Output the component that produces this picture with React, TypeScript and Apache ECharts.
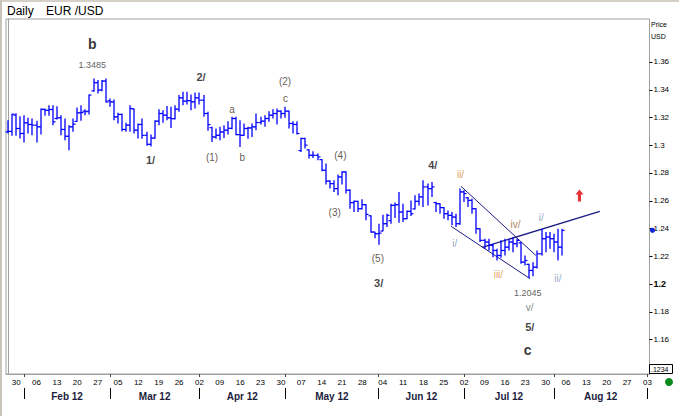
import React, { useEffect, useRef } from "react";
import * as echarts from "echarts";

// ---------- calendar (trading days shown on the axis) ----------
const AXIS_START = "2012-01-26";
const AXIS_END = "2012-09-03";
function weekdays(a: string, b: string): string[] {
  const out: string[] = [];
  const d = new Date(a + "T00:00:00Z");
  const e = new Date(b + "T00:00:00Z");
  while (d <= e) {
    const w = d.getUTCDay();
    if (w !== 0 && w !== 6) out.push(d.toISOString().slice(0, 10));
    d.setUTCDate(d.getUTCDate() + 1);
  }
  return out;
}
const dates = weekdays(AXIS_START, AXIS_END);
const monthNames = ["Feb 12", "Mar 12", "Apr 12", "May 12", "Jun 12", "Jul 12", "Aug 12"];

// ---------- EUR/USD daily OHLC (26 Jan 2012 .. 3 Aug 2012) ----------
const opens = [
  1.3095, 1.3098, 1.3215, 1.3119, 1.3083, 1.316, 1.3148, 1.3143, 1.3131, 1.3256,
  1.325, 1.3256, 1.3191, 1.3196, 1.3112, 1.3063, 1.3131, 1.317, 1.3232, 1.3244,
  1.3244, 1.339, 1.3449, 1.3396, 1.3461, 1.3319, 1.3311, 1.3203, 1.322, 1.3112,
  1.3143, 1.326, 1.3107, 1.3148, 1.307, 1.3005, 1.305, 1.3172, 1.3227, 1.3215,
  1.3196, 1.319, 1.3258, 1.334, 1.3316, 1.332, 1.3311, 1.334, 1.3323, 1.3227,
  1.3125, 1.3058, 1.307, 1.3094, 1.3107, 1.312, 1.3191, 1.3075, 1.307, 1.3119,
  1.3123, 1.3131, 1.3162, 1.3172, 1.3191, 1.3215, 1.3227, 1.3244, 1.3227, 1.3244,
  1.3155, 1.3148, 1.296, 1.3047, 1.2965, 1.2926, 1.2926, 1.2895, 1.2818, 1.274,
  1.2722, 1.2686, 1.277, 1.2806, 1.2674, 1.2585, 1.2594, 1.2541, 1.257, 1.249,
  1.2373, 1.2361, 1.238, 1.2433, 1.2455, 1.2565, 1.257, 1.2517, 1.2469, 1.2522,
  1.254, 1.2594, 1.2626, 1.2698, 1.2686, 1.2585, 1.2577, 1.2549, 1.2505, 1.2493,
  1.2481, 1.2433, 1.2662, 1.262, 1.2601, 1.2541, 1.2397, 1.2313, 1.2301, 1.2277,
  1.224, 1.2204, 1.224, 1.2264, 1.2301, 1.2289, 1.2295, 1.2156, 1.214, 1.2096,
  1.212, 1.2216, 1.2325, 1.2337, 1.2325, 1.2301, 1.2264,
];
const highs = [
  1.3179, 1.3225, 1.3229, 1.3208, 1.3215, 1.3196, 1.3191, 1.3174, 1.3263, 1.3263,
  1.3287, 1.3287, 1.328, 1.3215, 1.3191, 1.3143, 1.3191, 1.327, 1.3287, 1.3258,
  1.3364, 1.348, 1.3468, 1.3468, 1.348, 1.3335, 1.3328, 1.3232, 1.3227, 1.316,
  1.3287, 1.3263, 1.3155, 1.3191, 1.3095, 1.3075, 1.3179, 1.3258, 1.3251, 1.3282,
  1.3275, 1.3287, 1.336, 1.3384, 1.3384, 1.3364, 1.3379, 1.3379, 1.336, 1.3239,
  1.3131, 1.3119, 1.3131, 1.3143, 1.3172, 1.3203, 1.3203, 1.3179, 1.3155, 1.3131,
  1.3155, 1.3227, 1.3203, 1.3215, 1.3244, 1.3258, 1.3263, 1.3251, 1.3275, 1.3248,
  1.3172, 1.3172, 1.3052, 1.3052, 1.297, 1.2955, 1.2938, 1.2898, 1.2866, 1.2746,
  1.2746, 1.2787, 1.2811, 1.2811, 1.2681, 1.2601, 1.2598, 1.2609, 1.2575, 1.2493,
  1.2375, 1.2433, 1.2498, 1.2505, 1.2577, 1.2585, 1.2662, 1.2577, 1.2529, 1.2601,
  1.2638, 1.265, 1.2746, 1.2722, 1.2734, 1.2592, 1.258, 1.2553, 1.2529, 1.2517,
  1.2505, 1.2686, 1.2674, 1.2626, 1.2613, 1.2545, 1.24, 1.2325, 1.2325, 1.2289,
  1.2252, 1.2313, 1.2325, 1.2325, 1.2337, 1.2325, 1.2301, 1.2204, 1.2144, 1.2156,
  1.224, 1.2397, 1.2373, 1.2373, 1.2361, 1.2397, 1.2397,
];
const lows = [
  1.3083, 1.3066, 1.3066, 1.3047, 1.3018, 1.3083, 1.3071, 1.3018, 1.3075, 1.321,
  1.321, 1.3143, 1.3184, 1.3071, 1.3035, 1.2962, 1.3095, 1.3167, 1.3174, 1.3215,
  1.322, 1.3384, 1.3372, 1.3388, 1.3307, 1.3275, 1.3179, 1.3155, 1.31, 1.3095,
  1.3095, 1.3083, 1.3047, 1.3046, 1.2995, 1.299, 1.3046, 1.3143, 1.316, 1.3179,
  1.3123, 1.3184, 1.3239, 1.3287, 1.3292, 1.3251, 1.3263, 1.3292, 1.3203, 1.3102,
  1.3022, 1.3046, 1.3034, 1.3051, 1.3075, 1.3114, 1.307, 1.2986, 1.3065, 1.3046,
  1.3058, 1.3107, 1.3147, 1.3131, 1.3167, 1.3191, 1.3147, 1.3191, 1.3196, 1.3119,
  1.3083, 1.3076, 1.295, 1.2975, 1.2902, 1.2907, 1.289, 1.2811, 1.2715, 1.2686,
  1.2662, 1.2638, 1.2715, 1.265, 1.2541, 1.2517, 1.2517, 1.2536, 1.2457, 1.2368,
  1.2329, 1.2281, 1.2378, 1.2409, 1.2433, 1.2474, 1.244, 1.2445, 1.2465, 1.2488,
  1.2536, 1.2565, 1.2553, 1.2565, 1.2626, 1.2517, 1.2505, 1.2469, 1.2457, 1.2421,
  1.2409, 1.2425, 1.259, 1.2553, 1.2505, 1.2361, 1.2301, 1.2252, 1.224, 1.2192,
  1.2168, 1.2188, 1.2204, 1.224, 1.2228, 1.2264, 1.2144, 1.2132, 1.2042, 1.2055,
  1.211, 1.2204, 1.2228, 1.2252, 1.2228, 1.2168, 1.2204,
];
const closes = [
  1.3098, 1.3222, 1.3119, 1.3083, 1.316, 1.3148, 1.3143, 1.3131, 1.3258, 1.325,
  1.3256, 1.3167, 1.3196, 1.3112, 1.3063, 1.3131, 1.315, 1.3232, 1.3234, 1.324,
  1.336, 1.3449, 1.3396, 1.3461, 1.331, 1.3311, 1.3203, 1.322, 1.3112, 1.3143,
  1.3263, 1.3107, 1.3148, 1.307, 1.3005, 1.305, 1.3172, 1.3227, 1.3215, 1.3196,
  1.319, 1.3258, 1.334, 1.3316, 1.332, 1.3311, 1.334, 1.3323, 1.3227, 1.3147,
  1.3058, 1.307, 1.3094, 1.3107, 1.312, 1.3191, 1.3075, 1.307, 1.3119, 1.3123,
  1.3131, 1.3162, 1.3172, 1.3191, 1.3215, 1.3227, 1.3244, 1.3227, 1.3244, 1.3155,
  1.3148, 1.3083, 1.3047, 1.2999, 1.2926, 1.2926, 1.2914, 1.2818, 1.274, 1.2722,
  1.2686, 1.277, 1.2806, 1.2674, 1.2585, 1.2594, 1.2541, 1.257, 1.25, 1.2373,
  1.2361, 1.2365, 1.2433, 1.2493, 1.2565, 1.257, 1.2517, 1.2469, 1.2522, 1.2505,
  1.2594, 1.2626, 1.2698, 1.2686, 1.2698, 1.2577, 1.2549, 1.2505, 1.2493, 1.2481,
  1.2433, 1.2662, 1.265, 1.2601, 1.2541, 1.2397, 1.2313, 1.2301, 1.2277, 1.224,
  1.2204, 1.224, 1.2264, 1.2301, 1.2289, 1.2313, 1.2156, 1.2168, 1.2096, 1.212,
  1.2216, 1.2325, 1.2337, 1.2325, 1.2301, 1.2264, 1.2385,
];

// ---------- price axis ticks ----------
const priceTicks = [1.16, 1.18, 1.2, 1.22, 1.24, 1.26, 1.28, 1.3, 1.32, 1.34, 1.36];

// ---------- trend lines [bar index, price] ----------
const upperChannel = [[111.2, 1.2703], [129.6, 1.2204]];
const lowerChannel = [[108.8, 1.2414], [128.2, 1.2036]];
const risingLine = [[116.4, 1.2262], [145.3, 1.2522]];

// ---------- wave labels: text, bar index, price, style ----------
const waveText = ["b", "1.3485", "2/", "(2)", "c", "a", "1/", "(1)", "b", "(4)", "(3)", "(5)", "3/", "4/", "ii/", "i/", "iv/", "i/", "iii/", "ii/", "1.2045", "v/", "5/", "c"];
const waveIndex = [20.7, 20.7, 47.4, 68.0, 68.1, 55.0, 35.0, 50.1, 57.5, 81.6, 80.2, 90.8, 91.0, 104.3, 111.1, 109.7, 124.6, 130.9, 120.4, 135.0, 127.6, 128.1, 128.1, 127.6];
const wavePrice = [1.3728, 1.3576, 1.349, 1.3457, 1.3336, 1.3256, 1.289, 1.291, 1.2907, 1.2926, 1.2513, 1.2181, 1.2009, 1.2854, 1.2786, 1.2291, 1.2428, 1.2481, 1.2067, 1.2036, 1.1932, 1.1829, 1.1687, 1.1526];
const waveKind = ["major", "price", "bold", "minor", "minor", "minor", "bold", "minor", "minor", "minor", "minor", "minor", "bold", "bold", "orange", "blue", "brown", "blue", "orange", "blue", "price", "gray", "bold", "major"];
const arrowPoint = [140.3, 1.2637];

const FONT = "'Liberation Sans', Arial, sans-serif";
const kindStyle: Record<string, any> = {
  major: { fontSize: 14, fontWeight: "bold", color: "#000" },
  bold: { fontSize: 11, fontWeight: "bold", color: "#111" },
  minor: { fontSize: 10, fontWeight: "normal", color: "#3c2c1c" },
  price: { fontSize: 9, fontWeight: "normal", color: "#333" },
  orange: { fontSize: 10, fontWeight: "normal", color: "#d88a30" },
  brown: { fontSize: 10, fontWeight: "normal", color: "#94652c" },
  blue: { fontSize: 10, fontWeight: "normal", color: "#7890b8" },
  gray: { fontSize: 10, fontWeight: "normal", color: "#666" },
};

export default function App() {
  const ref = useRef<HTMLDivElement>(null);
  useEffect(() => {
    if (!ref.current) return;
    const chart = echarts.init(ref.current, undefined, { renderer: "svg" });

    const n = dates.length;
    const mondays: number[] = [];
    const monthStarts: number[] = [];
    for (let i = 0; i < n; i++) {
      const d = new Date(dates[i] + "T00:00:00Z");
      if (d.getUTCDay() === 1) mondays.push(i);
      if (i > 0 && dates[i].slice(5, 7) !== dates[i - 1].slice(5, 7)) monthStarts.push(i);
    }
    const monthMids: number[] = [];
    for (let k = 0; k + 1 < monthStarts.length; k++) monthMids.push((monthStarts[k] + monthStarts[k + 1]) / 2);

    const ohlc = opens.map((o, i) => [i, o, highs[i], lows[i], closes[i]]);
    const labelData = waveText.map((t, k) => ({
      value: [waveIndex[k], wavePrice[k]],
      label: { show: true, position: "inside", formatter: t, fontFamily: FONT, ...kindStyle[waveKind[k]] },
    }));

    const trend = (data: number[][], width: number) => ({
      type: "line",
      data,
      symbol: "none",
      silent: true,
      lineStyle: { color: "#1c1c84", width },
      z: 3,
    });

    chart.setOption({
      animation: false,
      backgroundColor: "#ffffff",
      textStyle: { fontFamily: FONT },
      grid: {
        left: 6, top: 19, width: 643.5, height: 355,
        show: true, borderColor: "#a0a0a0", borderWidth: 1, backgroundColor: "#ffffff",
      },
      xAxis: [
        {
          type: "value", min: -0.5, max: n - 0.5, position: "bottom",
          axisLine: { show: true, lineStyle: { color: "#a0a0a0" } },
          axisTick: { show: true, customValues: monthStarts, length: 3, lineStyle: { color: "#444" } },
          axisLabel: {
            customValues: mondays, fontSize: 8, color: "#000", margin: 4, fontFamily: FONT,
            formatter: (v: number) => dates[Math.round(v)].slice(8, 10),
          },
          splitLine: { show: false },
        },
        {
          type: "value", min: -0.5, max: n - 0.5, position: "bottom", offset: 14,
          axisLine: { show: false },
          axisTick: { show: true, customValues: monthStarts, length: 11, lineStyle: { color: "#000" } },
          axisLabel: {
            customValues: monthMids, fontSize: 10, fontWeight: "bold", color: "#1c1c3c", margin: 3, fontFamily: FONT,
            formatter: (v: number) => {
              const k = monthMids.findIndex((m) => Math.abs(m - v) < 0.01);
              return k >= 0 ? monthNames[k] : "";
            },
          },
          splitLine: { show: false },
        },
      ],
      yAxis: {
        type: "value", position: "right", min: 1.135, max: 1.3908,
        axisLine: { show: true, lineStyle: { color: "#a0a0a0" } },
        axisTick: { show: false },
        axisLabel: {
          customValues: priceTicks, fontSize: 8, color: "#000", margin: 4, fontFamily: FONT,
          formatter: (v: number) => {
            const s = String(Number(v.toFixed(2)));
            return s === "1.2" ? "{b|1.2}" : s;
          },
          rich: { b: { fontSize: 9, fontWeight: "bold", color: "#000", fontFamily: FONT } },
        },
        splitLine: { show: false },
      },
      series: [
        {
          type: "custom",
          data: ohlc,
          encode: { x: 0, y: [1, 2, 3, 4] },
          z: 4,
          renderItem: (params: any, api: any) => {
            const i = api.value(0);
            const pO = api.coord([i, api.value(1)]);
            const pH = api.coord([i, api.value(2)]);
            const pL = api.coord([i, api.value(3)]);
            const pC = api.coord([i, api.value(4)]);
            const x = Math.round(pH[0]);
            return {
              type: "group",
              children: [
                { type: "line", shape: { x1: x, y1: pH[1], x2: x, y2: pL[1] }, style: { stroke: "#0000ff", lineWidth: 1.3 } },
                { type: "line", shape: { x1: x - 2.5, y1: pO[1], x2: x, y2: pO[1] }, style: { stroke: "#0000ff", lineWidth: 1.2 } },
                { type: "line", shape: { x1: x, y1: pC[1], x2: x + 2.5, y2: pC[1] }, style: { stroke: "#0000ff", lineWidth: 1.2 } },
              ],
            };
          },
        },
        trend(upperChannel, 1),
        trend(lowerChannel, 1),
        trend(risingLine, 1.4),
        {
          type: "scatter",
          data: labelData,
          symbolSize: 1,
          itemStyle: { color: "rgba(0,0,0,0)" },
          silent: true,
          z: 6,
        },
        {
          type: "scatter",
          data: [arrowPoint],
          symbol: "path://M5,0 L10,6 L7,6 L7,14 L3,14 L3,6 L0,6 Z",
          symbolSize: [8, 12],
          itemStyle: { color: "#e00000" },
          silent: true,
          z: 6,
        },
      ],
    });

    const lastY = chart.convertToPixel({ yAxisIndex: 0 }, closes[closes.length - 1]) as number;
    const axisX = (chart.convertToPixel({ xAxisIndex: 0 }, n - 0.5) as number);
    const tickLines = priceTicks.map((p) => {
      const y = Math.round(chart.convertToPixel({ yAxisIndex: 0 }, p) as number) + 0.5;
      return { type: "line", shape: { x1: axisX, y1: y, x2: axisX + 3, y2: y }, style: { stroke: "#000", lineWidth: 1 }, silent: true };
    });
    chart.setOption({
      graphic: [
        { type: "rect", shape: { x: 0, y: 0, width: 679, height: 2 }, style: { fill: "#d4d0c8" }, silent: true },
        { type: "rect", shape: { x: 0, y: 0, width: 2, height: 416 }, style: { fill: "#c8c4bc" }, silent: true },
        { type: "text", x: 7, y: 5, style: { text: "Daily", fontSize: 12, fill: "#000", fontFamily: FONT } },
        { type: "text", x: 46, y: 5, style: { text: "EUR /USD", fontSize: 12, fill: "#000", fontFamily: FONT } },
        { type: "text", x: 651, y: 21, style: { text: "Price", fontSize: 7, fill: "#000", fontFamily: FONT } },
        { type: "text", x: 651, y: 33, style: { text: "USD", fontSize: 7, fill: "#000", fontFamily: FONT } },
        ...tickLines,
        { type: "circle", shape: { cx: 652.5, cy: lastY, r: 2.6 }, style: { fill: "#1028e0" }, z: 10 },
        { type: "rect", shape: { x: 649.5, y: 364.5, width: 23, height: 9 }, style: { fill: "#fff", stroke: "#000", lineWidth: 1 }, z: 10 },
        { type: "text", x: 651, y: 365.5, style: { text: ".1234", fontSize: 7, fill: "#000", fontFamily: FONT }, z: 11 },
        { type: "circle", shape: { cx: 669, cy: 382, r: 4 }, style: { fill: "#0a8a1a" }, z: 10 },
      ],
    });

    return () => chart.dispose();
  }, []);
  return (
    <div
      ref={ref}
      style={{ position: "absolute", left: 0, top: 0, width: 679, height: 416, background: "#fff" }}
    />
  );
}
